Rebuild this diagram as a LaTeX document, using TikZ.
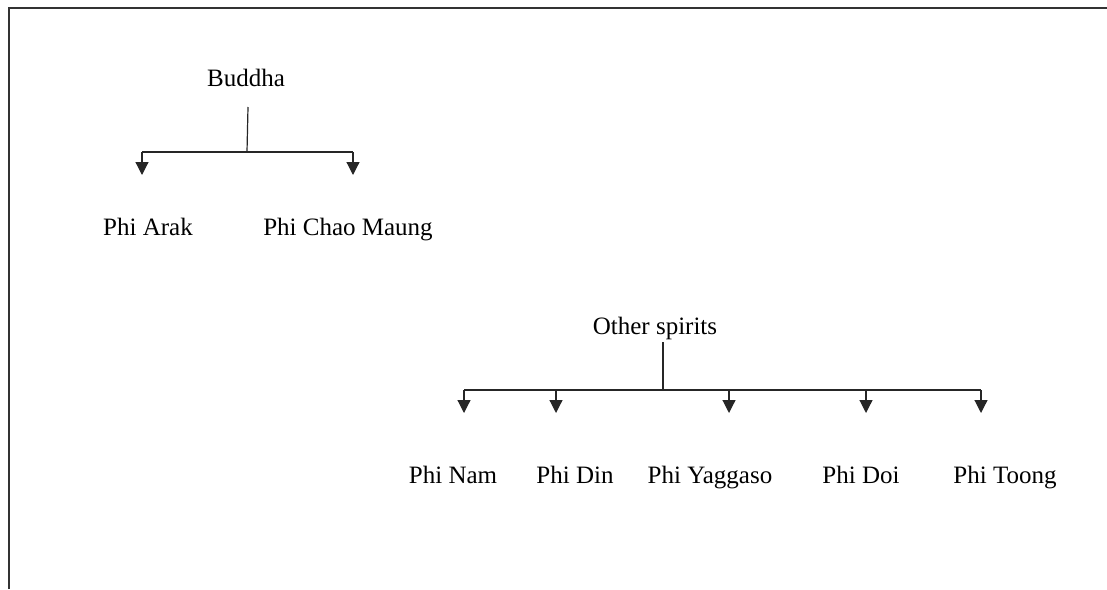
\documentclass[tikz,border=0pt]{standalone}
\usepackage{fontspec}
\setmainfont{Liberation Serif}
\usetikzlibrary{arrows.meta,positioning}

\tikzset{
  spirit/.style={font=\fontsize{25}{30}\selectfont, inner sep=0pt, anchor=base},
  branch/.style={line width=1.2pt, black!85},
  arr/.style={branch, -{Triangle[width=13pt,length=13pt]}}
}

\begin{document}
\begin{tikzpicture}[x=1pt,y=-1pt]
\useasboundingbox (0,0) rectangle (1107,589);
% frame
\draw[line width=2pt, black!80] (8.5,589) -- (8.5,7.5) -- (1107,7.5);

% Buddha and its two spirits
\node[spirit] (buddha) at (246,86) {Buddha};
\node[spirit] (arak) at (148,235) {Phi Arak};
\node[spirit] (chao) at (348,235) {Phi Chao Maung};
\coordinate (btop) at (248,107);
\coordinate (bjoin) at (247,152);
\coordinate (bleft) at (142,152);
\coordinate (bright) at (353,152);
\draw[branch] (btop) -- (bjoin);
\draw[branch] (bleft) -- (bright);
\foreach \c in {bleft,bright}
  \draw[arr] (\c) -- ++(0,23);

% Other spirits
\node[spirit] (others) at (655,334) {Other spirits};
\node[spirit] (nam) at (453,483) {Phi Nam};
\node[spirit] (din) at (575,483) {Phi Din};
\node[spirit] (yaggaso) at (710,483) {Phi Yaggaso};
\node[spirit] (doi) at (861,483) {Phi Doi};
\node[spirit] (toong) at (1005,483) {Phi Toong};
\coordinate (otop) at (663,342);
\coordinate (ojoin) at (663,390);
\coordinate (o1) at (464,390);
\coordinate (o2) at (556,390);
\coordinate (o3) at (729,390);
\coordinate (o4) at (866,390);
\coordinate (o5) at (981,390);
\draw[branch] (otop) -- (ojoin);
\draw[branch] (o1) -- (o5);
\foreach \c in {o1,o2,o3,o4,o5}
  \draw[arr] (\c) -- ++(0,23);
\end{tikzpicture}
\end{document}
